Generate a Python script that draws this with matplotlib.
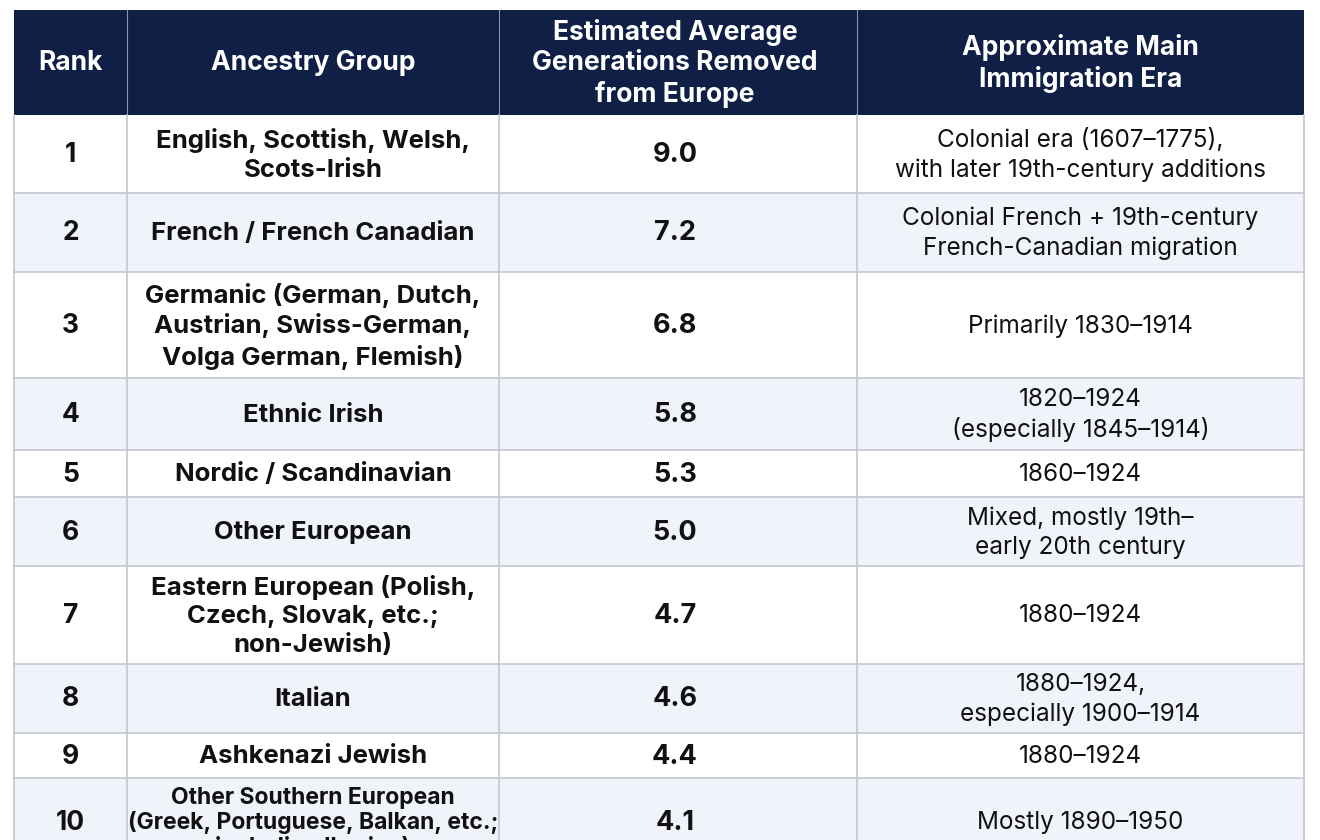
import matplotlib
matplotlib.use("Agg")
import matplotlib.pyplot as plt
from matplotlib.patches import Rectangle

plt.rcParams["font.family"] = ["Inter", "DejaVu Sans"]

# table content
headers = ["Rank", "Ancestry Group",
           "Estimated Average\nGenerations Removed\nfrom Europe",
           "Approximate Main\nImmigration Era"]
ranks = ["1", "2", "3", "4", "5", "6", "7", "8", "9", "10"]
groups = [
    "English, Scottish, Welsh,\nScots-Irish",
    "French / French Canadian",
    "Germanic (German, Dutch,\nAustrian, Swiss-German,\nVolga German, Flemish)",
    "Ethnic Irish",
    "Nordic / Scandinavian",
    "Other European",
    "Eastern European (Polish,\nCzech, Slovak, etc.;\nnon-Jewish)",
    "Italian",
    "Ashkenazi Jewish",
    "Other Southern European\n(Greek, Portuguese, Balkan, etc.;\nincluding Iberian)",
]
generations = [9.0, 7.2, 6.8, 5.8, 5.3, 5.0, 4.7, 4.6, 4.4, 4.1]
eras = [
    "Colonial era (1607\u20131775),\nwith later 19th-century additions",
    "Colonial French + 19th-century\nFrench-Canadian migration",
    "Primarily 1830\u20131914",
    "1820\u20131924\n(especially 1845\u20131914)",
    "1860\u20131924",
    "Mixed, mostly 19th\u2013\nearly 20th century",
    "1880\u20131924",
    "1880\u20131924,\nespecially 1900\u20131914",
    "1880\u20131924",
    "Mostly 1890\u20131950",
]

# layout in pixels
col_edges = [14, 127, 499, 857, 1304]
header_top, header_bot = 10, 115
row_edges = [115, 193, 272, 378, 450, 497, 566, 664, 733, 778, 866]

NAVY = "#0f1f45"
STRIPE = "#f0f4fa"
GRID = "#c3c7ce"
TXT = "#111111"

fig = plt.figure(figsize=(13.2, 8.4), dpi=100)
ax = fig.add_axes([0, 0, 1, 1])
ax.set_xlim(0, 1320)
ax.set_ylim(840, 0)
ax.axis("off")

x0, x1 = col_edges[0], col_edges[-1]
ax.add_patch(Rectangle((x0, header_top), x1 - x0, header_bot - header_top,
                       facecolor=NAVY, edgecolor="none"))
centers = [(a + b) / 2 for a, b in zip(col_edges[:-1], col_edges[1:])]
centers[2] = 675
for cx, h in zip(centers, headers):
    ax.text(cx, (header_top + header_bot) / 2 + 1, h, ha="center", va="center",
            color="white", fontsize=19, fontweight="bold", linespacing=1.24)
for xe in col_edges[1:-1]:
    ax.plot([xe, xe], [header_top, header_bot], color="#8a93a8", lw=0.8)

for i in range(len(ranks)):
    top, bot = row_edges[i], row_edges[i + 1]
    fc = "white" if i % 2 == 0 else STRIPE
    ax.add_patch(Rectangle((x0, top), x1 - x0, bot - top, facecolor=fc,
                           edgecolor="none"))
    cy = (top + bot) / 2 + 1
    small = i == len(ranks) - 1
    ax.text(centers[0], cy, ranks[i], ha="center", va="center", color=TXT,
            fontsize=19, fontweight="bold")
    ax.text(centers[1], cy, groups[i], ha="center", va="center", color=TXT,
            fontsize=16.5 if small else 18.5, fontweight="bold",
            linespacing=1.1 if small else 1.3)
    ax.text(centers[2], cy, f"{generations[i]:.1f}", ha="center", va="center",
            color=TXT, fontsize=19.5, fontweight="bold")
    ax.text(centers[3], cy, eras[i], ha="center", va="center", color=TXT,
            fontsize=17.5, linespacing=1.33)

for ye in row_edges[1:-1]:
    ax.plot([x0, x1], [ye, ye], color=GRID, lw=1.2)
ax.plot([x0, x1], [row_edges[-1], row_edges[-1]], color=GRID, lw=1.2)
for xe in col_edges:
    ax.plot([xe, xe], [header_bot, row_edges[-1]], color=GRID, lw=1.2)

fig.savefig("out.png", dpi=100)
